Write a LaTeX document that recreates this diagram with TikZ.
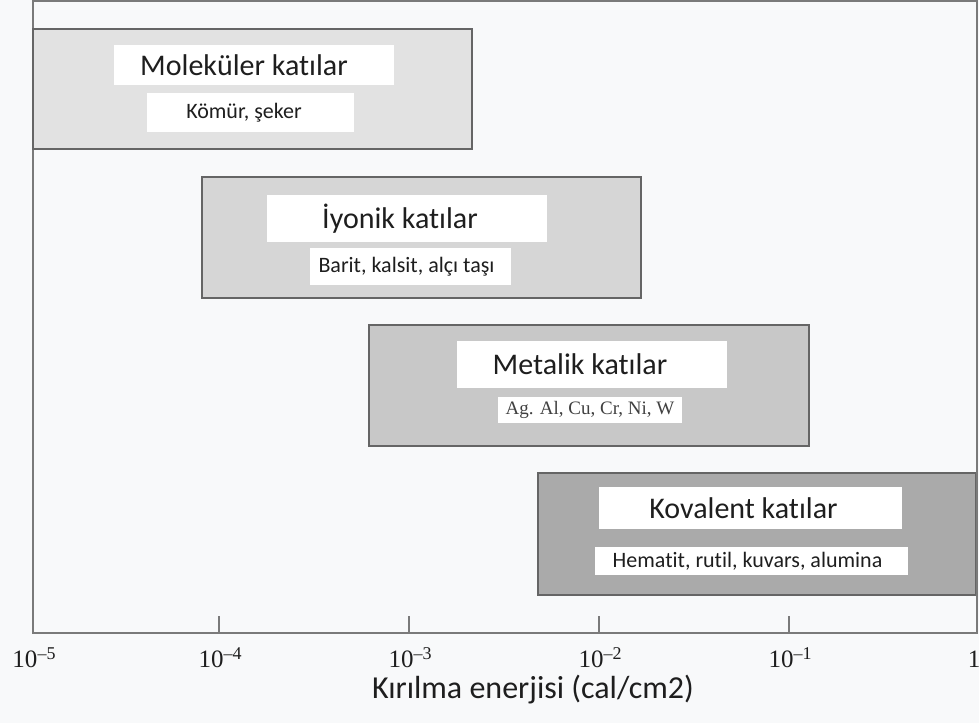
\documentclass[tikz,border=0pt]{standalone}
\usepackage{fontspec}
\setmainfont{Carlito}[Ligatures=NoCommon]
\newfontfamily\timesfont{Liberation Serif}
\definecolor{paper}{HTML}{F8F9FA}
\definecolor{framegray}{HTML}{7A7A7A}
\definecolor{edgegray}{HTML}{656565}
\definecolor{molfill}{HTML}{E2E2E2}
\definecolor{ionfill}{HTML}{D6D6D6}
\definecolor{metfill}{HTML}{C8C8C8}
\definecolor{covfill}{HTML}{AAAAAA}
\definecolor{ink}{HTML}{1E1E1E}
\tikzset{
  band/.style={draw=edgegray, line width=1.8pt, inner sep=0pt, outer sep=0pt},
  titlebox/.style={fill=white, inner sep=0pt, text=ink,
    font=\fontsize{30}{36}\selectfont},
  subbox/.style={fill=white, inner sep=0pt, text=ink,
    font=\fontsize{22}{26}\selectfont},
  framestroke/.style={draw=framegray, line width=2pt},
  tickstroke/.style={draw=framegray, line width=1.4pt},
  ticklabel/.style={anchor=base, inner sep=0pt, text=ink,
    font=\timesfont\fontsize{25}{30}\selectfont}
}
\newcommand{\pw}[1]{10\raisebox{8pt}{\fontsize{18}{21}\selectfont #1}}
\begin{document}
\begin{tikzpicture}[x=1pt,y=-1pt]
\useasboundingbox (0,0) rectangle (979,723);
\fill[paper] (0,0) rectangle (979,723);

% plot frame and axis
\coordinate (tl) at (33,1);
\coordinate (tr) at (977,1);
\coordinate (bl) at (33,633);
\coordinate (br) at (977,633);
\draw[framestroke] (bl) -- (tl) -- (tr) -- (br) -- cycle;

% ranges of fracture energy
\node[band, fill=molfill, minimum width=439pt, minimum height=120pt] (mol) at (252.5,89) {};
\node[band, fill=ionfill, minimum width=439pt, minimum height=121pt] (ion) at (421.5,237.5) {};
\node[band, fill=metfill, minimum width=440pt, minimum height=121pt] (met) at (589,385.5) {};
\node[band, fill=covfill, minimum width=438pt, minimum height=122pt] (cov) at (757,534) {};
\draw[framestroke] (tr) -- (br);

% labels
\node[titlebox, minimum width=280pt, minimum height=40pt] (molT) at (254,65) {Moleküler katılar\hspace*{20pt}};
\node[subbox, minimum width=207pt, minimum height=39pt] (molS) at (250.5,112.5) {Kömür, şeker\hspace*{13pt}};
\node[titlebox, minimum width=280pt, minimum height=47pt] (ionT) at (407,218.5) {İyonik katılar\hspace*{14pt}};
\node[subbox, minimum width=201pt, minimum height=37pt] (ionS) at (410.5,266.5) {Barit, kalsit, alçı taşı\hspace*{8pt}};
\node[titlebox, minimum width=270pt, minimum height=47pt] (metT) at (592,364.5) {Metalik katılar\hspace*{24pt}};
\node[subbox, minimum width=184pt, minimum height=26pt, text=black!75,
  font=\timesfont\fontsize{19}{22}\selectfont] (metS) at (590,410) {Ag. Al, Cu, Cr, Ni, W};
\node[titlebox, minimum width=303pt, minimum height=42pt] (covT) at (750.5,508) {Kovalent katılar\hspace*{14pt}};
\node[subbox, minimum width=313pt, minimum height=28pt] (covS) at (751.5,561) {Hematit, rutil, kuvars, alumina\hspace*{8pt}};

% ticks and tick labels
\foreach \x in {219,409,599,789} \draw[tickstroke] (\x,633) -- (\x,616);
\node[ticklabel] (t5) at (34,667) {\pw{–5}};
\node[ticklabel] (t4) at (220,667) {\pw{–4}};
\node[ticklabel] (t3) at (410,667) {\pw{–3}};
\node[ticklabel] (t2) at (600,667) {\pw{–2}};
\node[ticklabel] (t1) at (790,667) {\pw{–1}};
\node[ticklabel] (t0) at (974,667) {1};

\node[anchor=base, inner sep=0pt, text=ink, font=\fontsize{32}{38}\selectfont] (xlab) at (533,698) {Kırılma enerjisi (cal/cm2)};
\end{tikzpicture}
\end{document}
